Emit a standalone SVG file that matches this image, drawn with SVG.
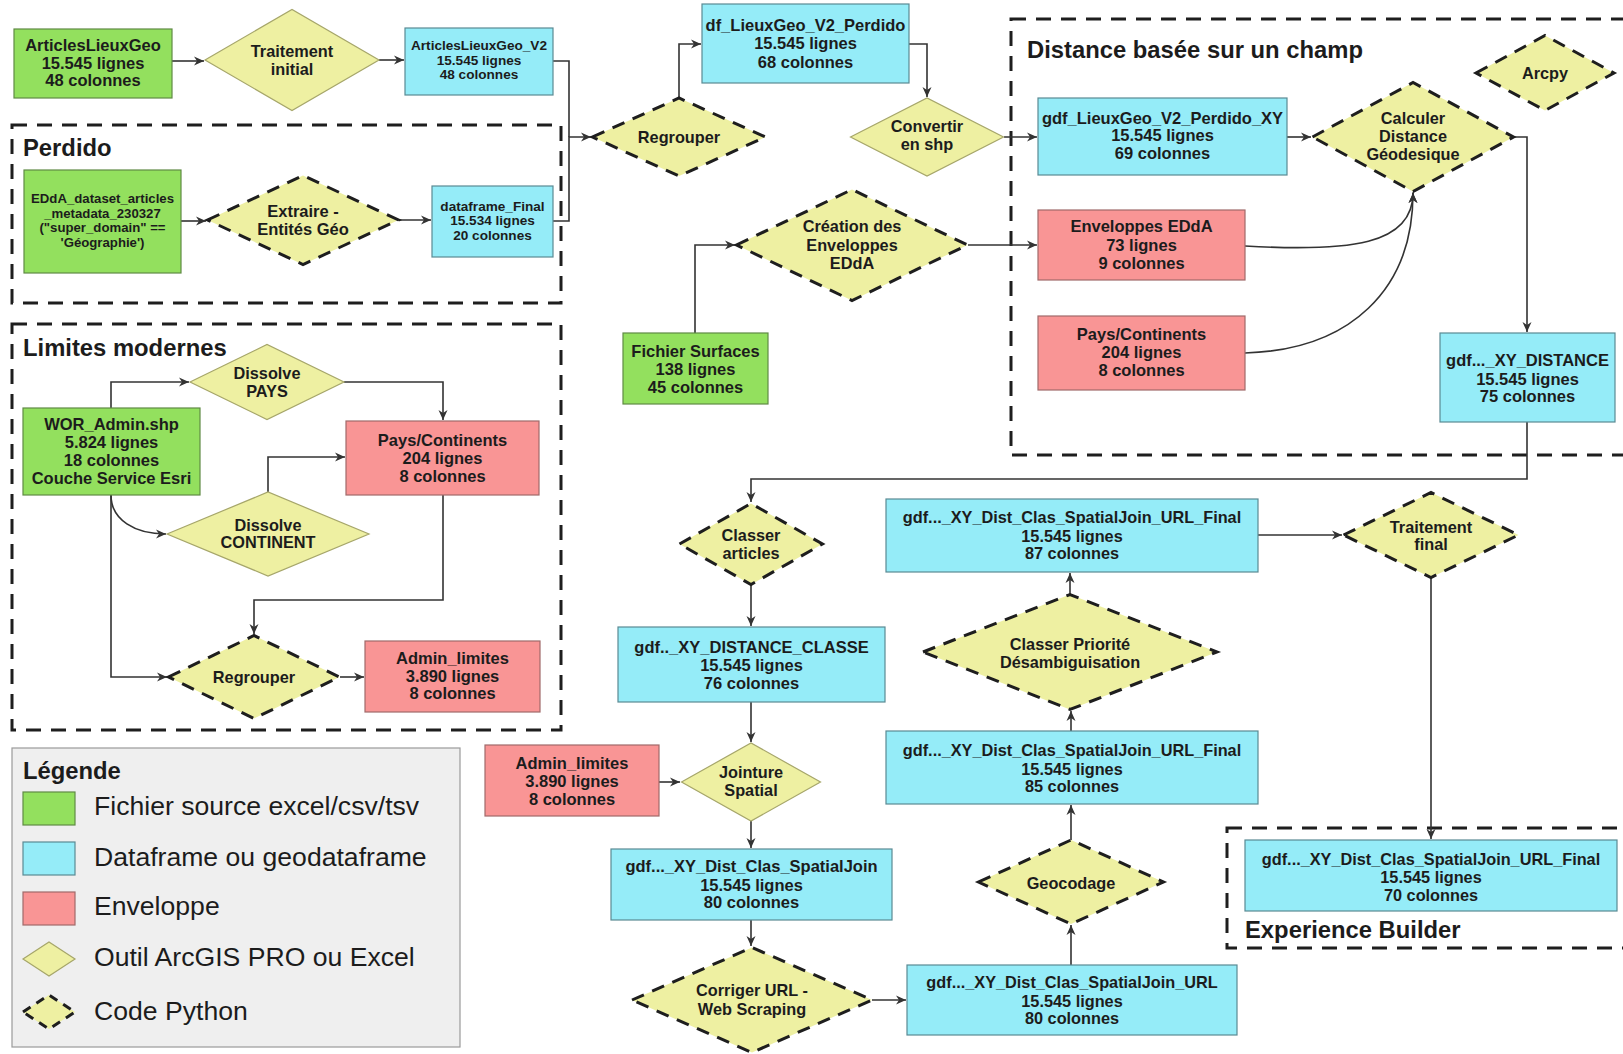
<svg xmlns="http://www.w3.org/2000/svg" width="1623" height="1054" viewBox="0 0 1623 1054">
<style>
.g{fill:#93e05e;stroke:#5f8a45;stroke-width:1.2}
.b{fill:#95ecf8;stroke:#5a8a93;stroke-width:1.2}
.r{fill:#f99595;stroke:#a06a6a;stroke-width:1.2}
.ds{fill:#eef0a2;stroke:#a6a66a;stroke-width:1.2}
.dp{fill:#eef0a2;stroke:#1e1e1e;stroke-width:3;stroke-dasharray:13 9}
.grp{fill:none;stroke:#1e1e1e;stroke-width:3;stroke-dasharray:15 10}
.t{font-family:"Liberation Sans",Arial,sans-serif;font-weight:bold;fill:#1c1c1c;text-anchor:middle;font-size:16.3px}
.m{font-size:16.5px}
.s{font-size:13.6px}
.h{font-family:"Liberation Sans",Arial,sans-serif;font-weight:bold;fill:#1c1c1c;font-size:23.8px}
.l{font-family:"Liberation Sans",Arial,sans-serif;fill:#1c1c1c;font-size:26.6px}
.c{fill:none;stroke:#333;stroke-width:1.6;marker-end:url(#a)}
.n{fill:none;stroke:#333;stroke-width:1.6}
</style>
<defs>
<marker id="a" markerUnits="userSpaceOnUse" markerWidth="12" markerHeight="10" refX="10" refY="5" orient="auto">
<path d="M0,0.5 L10,5 L0,9.5 L3,5 z" fill="#333"/>
</marker>
</defs>
<rect width="1623" height="1054" fill="#fff"/>

<g id="groups">
<rect class="grp" x="12" y="125" width="549" height="178"/>
<text class="h" x="23" y="156">Perdido</text>
<rect class="grp" x="12" y="324" width="549" height="406"/>
<text class="h" x="23" y="356">Limites modernes</text>
<rect class="grp" x="1011" y="19" width="640" height="436"/>
<text class="h" x="1027" y="58">Distance basée sur un champ</text>
<rect class="grp" x="1227" y="828" width="420" height="120"/>
<text class="h" x="1245" y="938">Experience Builder</text>
</g>

<g id="connectors">
<path class="c" d="M172,61 H204"/>
<path class="c" d="M379,60 H404"/>
<path class="n" d="M553,61 H569 V137"/>
<path class="c" d="M553,221 H569 V137 H591"/>
<path class="c" d="M181,221 H206"/>
<path class="c" d="M398,220 H431"/>
<path class="c" d="M679,98 V44 H701"/>
<path class="c" d="M909,44 H927 V97"/>
<path class="c" d="M1004,137 H1037"/>
<path class="c" d="M1287,137 H1311"/>
<path class="c" d="M1514,137 H1527 V332"/>
<path class="c" d="M1245,246 C1350,252 1413,245 1413,193"/>
<path class="c" d="M1245,353 C1350,350 1413,290 1413,193"/>
<path class="c" d="M968,245 H1037"/>
<path class="c" d="M695,333 V245 H735"/>
<path class="c" d="M1527,422 V479 H751 V502"/>
<path class="c" d="M751,585 V626"/>
<path class="c" d="M751,702 V742"/>
<path class="c" d="M659,782 H680"/>
<path class="c" d="M751,821 V848"/>
<path class="c" d="M751,920 V946"/>
<path class="c" d="M872,1000 H906"/>
<path class="c" d="M1071,965 V925"/>
<path class="c" d="M1071,840 V805"/>
<path class="c" d="M1071,731 V711"/>
<path class="c" d="M1070,594 V573"/>
<path class="c" d="M1258,535 H1342"/>
<path class="c" d="M1431,578 V839"/>
<path class="c" d="M111,408 V382 H189"/>
<path class="c" d="M344,382 H443 V420"/>
<path class="c" d="M111,495 C111,520 135,534 166,534"/>
<path class="c" d="M268,492 V457 H345"/>
<path class="c" d="M443,495 V600 H254 V634"/>
<path class="c" d="M111,495 V677 H167"/>
<path class="c" d="M340,677 H364"/>
</g>

<g id="n-articles"><rect class="g" x="14" y="29" width="158" height="69"/>
<text class="t m"><tspan x="93" y="51">ArticlesLieuxGeo</tspan><tspan x="93" y="68.5">15.545 lignes</tspan><tspan x="93" y="86">48 colonnes</tspan></text></g>

<g id="n-traitement-initial"><polygon class="ds" points="205,60 292,9.5 379,60 292,110.5"/>
<text class="t"><tspan x="292" y="57">Traitement</tspan><tspan x="292" y="74.5">initial</tspan></text></g>

<g id="n-articles-v2"><rect class="b" x="405" y="28" width="148" height="67"/>
<text class="t s"><tspan x="479" y="50">ArticlesLieuxGeo_V2</tspan><tspan x="479" y="64.5">15.545 lignes</tspan><tspan x="479" y="79">48 colonnes</tspan></text></g>

<g id="n-edda"><rect class="g" x="24" y="170" width="157" height="103"/>
<text class="t" style="font-size:13.2px"><tspan x="102.5" y="203">EDdA_dataset_articles</tspan><tspan x="102.5" y="217.5">_metadata_230327</tspan><tspan x="102.5" y="232">("super_domain" ==</tspan><tspan x="102.5" y="246.5">'Géographie')</tspan></text></g>

<g id="n-extraire"><polygon class="dp" points="207.5,220 303,175.5 398.5,220 303,264.5"/>
<text class="t m"><tspan x="303" y="217">Extraire -</tspan><tspan x="303" y="235">Entités Géo</tspan></text></g>

<g id="n-dataframe-final"><rect class="b" x="432" y="186" width="121" height="71"/>
<text class="t s"><tspan x="492.5" y="210.5">dataframe_Final</tspan><tspan x="492.5" y="225">15.534 lignes</tspan><tspan x="492.5" y="240">20 colonnes</tspan></text></g>

<g id="n-regrouper"><polygon class="dp" points="592.5,137 679,98 765.5,137 679,176"/>
<text class="t"><tspan x="679" y="142.5">Regrouper</tspan></text></g>

<g id="n-df-perdido"><rect class="b" x="702" y="4" width="207" height="79"/>
<text class="t m"><tspan x="805.5" y="30.5">df_LieuxGeo_V2_Perdido</tspan><tspan x="805.5" y="49">15.545 lignes</tspan><tspan x="805.5" y="67.5">68 colonnes</tspan></text></g>

<g id="n-convertir"><polygon class="ds" points="850.5,137 927,98 1003.5,137 927,176"/>
<text class="t"><tspan x="927" y="132">Convertir</tspan><tspan x="927" y="150">en shp</tspan></text></g>

<g id="n-xy"><rect class="b" x="1038" y="98" width="249" height="77"/>
<text class="t m"><tspan x="1162.5" y="123.5">gdf_LieuxGeo_V2_Perdido_XY</tspan><tspan x="1162.5" y="141">15.545 lignes</tspan><tspan x="1162.5" y="158.5">69 colonnes</tspan></text></g>

<g id="n-calculer"><polygon class="dp" points="1312.5,137 1413,82.5 1513.5,137 1413,191.5"/>
<text class="t"><tspan x="1413" y="123.5">Calculer</tspan><tspan x="1413" y="142">Distance</tspan><tspan x="1413" y="159.5">Géodesique</tspan></text></g>

<g id="n-arcpy"><polygon class="dp" points="1476,73 1545,35.5 1614,73 1545,110.5"/>
<text class="t"><tspan x="1545" y="79">Arcpy</tspan></text></g>

<g id="n-enveloppes"><rect class="r" x="1038" y="210" width="207" height="70"/>
<text class="t m"><tspan x="1141.5" y="232">Enveloppes EDdA</tspan><tspan x="1141.5" y="250.5">73 lignes</tspan><tspan x="1141.5" y="268.5">9 colonnes</tspan></text></g>

<g id="n-pays-distance"><rect class="r" x="1038" y="316" width="207" height="74"/>
<text class="t m"><tspan x="1141.5" y="339.5">Pays/Continents</tspan><tspan x="1141.5" y="357.5">204 lignes</tspan><tspan x="1141.5" y="376">8 colonnes</tspan></text></g>

<g id="n-xy-distance"><rect class="b" x="1440" y="333" width="175" height="89"/>
<text class="t m"><tspan x="1527.5" y="365.5">gdf..._XY_DISTANCE</tspan><tspan x="1527.5" y="384.5">15.545 lignes</tspan><tspan x="1527.5" y="401.5">75 colonnes</tspan></text></g>

<g id="n-creation"><polygon class="dp" points="736.5,245 852,189.5 967.5,245 852,300.5"/>
<text class="t"><tspan x="852" y="232">Création des</tspan><tspan x="852" y="250.5">Enveloppes</tspan><tspan x="852" y="268.5">EDdA</tspan></text></g>

<g id="n-fichier-surfaces"><rect class="g" x="623" y="333" width="145" height="71"/>
<text class="t m"><tspan x="695.5" y="356.5">Fichier Surfaces</tspan><tspan x="695.5" y="375">138 lignes</tspan><tspan x="695.5" y="392.5">45 colonnes</tspan></text></g>

<g id="n-dissolve-pays"><polygon class="ds" points="190,382 267,344.5 344,382 267,419.5"/>
<text class="t"><tspan x="267" y="379">Dissolve</tspan><tspan x="267" y="396.5">PAYS</tspan></text></g>

<g id="n-wor"><rect class="g" x="23" y="408" width="177" height="87"/>
<text class="t m"><tspan x="111.5" y="429.5">WOR_Admin.shp</tspan><tspan x="111.5" y="447.5">5.824 lignes</tspan><tspan x="111.5" y="466">18 colonnes</tspan><tspan x="111.5" y="483.5">Couche Service Esri</tspan></text></g>

<g id="n-pays-limites"><rect class="r" x="346" y="421" width="193" height="74"/>
<text class="t m"><tspan x="442.5" y="445.5">Pays/Continents</tspan><tspan x="442.5" y="464">204 lignes</tspan><tspan x="442.5" y="481.5">8 colonnes</tspan></text></g>

<g id="n-dissolve-continent"><polygon class="ds" points="167,534 268,492 369,534 268,576"/>
<text class="t"><tspan x="268" y="530.5">Dissolve</tspan><tspan x="268" y="548">CONTINENT</tspan></text></g>

<g id="n-regrouper-limites"><polygon class="dp" points="168.5,677 254,635.5 339.5,677 254,718.5"/>
<text class="t"><tspan x="254" y="682.5">Regrouper</tspan></text></g>

<g id="n-admin-limites"><rect class="r" x="365" y="641" width="175" height="71"/>
<text class="t m"><tspan x="452.5" y="663.5">Admin_limites</tspan><tspan x="452.5" y="681.5">3.890 lignes</tspan><tspan x="452.5" y="699">8 colonnes</tspan></text></g>

<g id="legend">
<rect x="12" y="748" width="448" height="299" fill="#efefef" stroke="#9a9a9a" stroke-width="1.2"/>
<text class="h" x="23" y="779">Légende</text>
<rect class="g" x="23" y="792" width="52" height="33"/>
<text class="l" x="94" y="815">Fichier source excel/csv/tsv</text>
<rect class="b" x="23" y="842" width="52" height="33"/>
<text class="l" x="94" y="866">Dataframe ou geodataframe</text>
<rect class="r" x="23" y="892" width="52" height="33"/>
<text class="l" x="94" y="915">Enveloppe</text>
<polygon class="ds" points="23,959 49,942 75,959 49,976"/>
<text class="l" x="94" y="966">Outil ArcGIS PRO ou Excel</text>
<polygon class="dp" points="23,1012 49,995 75,1012 49,1029" style="stroke-dasharray:9 7"/>
<text class="l" x="94" y="1020">Code Python</text>
</g>

<g id="n-classer-articles"><polygon class="dp" points="679.5,544 751,503.5 822.5,544 751,584.5"/>
<text class="t"><tspan x="751" y="540.5">Classer</tspan><tspan x="751" y="559">articles</tspan></text></g>

<g id="n-distance-classe"><rect class="b" x="618" y="627" width="267" height="75"/>
<text class="t m"><tspan x="751.5" y="652.5">gdf.._XY_DISTANCE_CLASSE</tspan><tspan x="751.5" y="671">15.545 lignes</tspan><tspan x="751.5" y="688.5">76 colonnes</tspan></text></g>

<g id="n-admin-limites-2"><rect class="r" x="485" y="745" width="174" height="71"/>
<text class="t m"><tspan x="572" y="768.5">Admin_limites</tspan><tspan x="572" y="787">3.890 lignes</tspan><tspan x="572" y="804.5">8 colonnes</tspan></text></g>

<g id="n-jointure"><polygon class="ds" points="681.5,782 751,743 820.5,782 751,821"/>
<text class="t"><tspan x="751" y="777.5">Jointure</tspan><tspan x="751" y="795.5">Spatial</tspan></text></g>

<g id="n-spatialjoin"><rect class="b" x="611" y="849" width="281" height="71"/>
<text class="t m"><tspan x="751.5" y="871.5">gdf..._XY_Dist_Clas_SpatialJoin</tspan><tspan x="751.5" y="890.5">15.545 lignes</tspan><tspan x="751.5" y="908">80 colonnes</tspan></text></g>

<g id="n-corriger"><polygon class="dp" points="632,1000 752,947.5 872,1000 752,1052.5"/>
<text class="t"><tspan x="752" y="996">Corriger URL -</tspan><tspan x="752" y="1014.5">Web Scraping</tspan></text></g>

<g id="n-url"><rect class="b" x="907" y="965" width="330" height="70"/>
<text class="t"><tspan x="1072" y="987.5">gdf..._XY_Dist_Clas_SpatialJoin_URL</tspan><tspan x="1072" y="1006.5">15.545 lignes</tspan><tspan x="1072" y="1024">80 colonnes</tspan></text></g>

<g id="n-geocodage"><polygon class="dp" points="978.5,882 1071,840 1163.5,882 1071,924"/>
<text class="t"><tspan x="1071" y="888.5">Geocodage</tspan></text></g>

<g id="n-final85"><rect class="b" x="886" y="731" width="372" height="73"/>
<text class="t"><tspan x="1072" y="756">gdf..._XY_Dist_Clas_SpatialJoin_URL_Final</tspan><tspan x="1072" y="774.5">15.545 lignes</tspan><tspan x="1072" y="792">85 colonnes</tspan></text></g>

<g id="n-classer-priorite"><polygon class="dp" points="923,652 1070,594.5 1217,652 1070,709.5"/>
<text class="t"><tspan x="1070" y="649.5">Classer Priorité</tspan><tspan x="1070" y="668">Désambiguisation</tspan></text></g>

<g id="n-final87"><rect class="b" x="886" y="499" width="372" height="73"/>
<text class="t"><tspan x="1072" y="523">gdf..._XY_Dist_Clas_SpatialJoin_URL_Final</tspan><tspan x="1072" y="541.5">15.545 lignes</tspan><tspan x="1072" y="559">87 colonnes</tspan></text></g>

<g id="n-traitement-final"><polygon class="dp" points="1343.5,535 1431,492.5 1518.5,535 1431,577.5"/>
<text class="t"><tspan x="1431" y="532.5">Traitement</tspan><tspan x="1431" y="550">final</tspan></text></g>

<g id="n-final70"><rect class="b" x="1245" y="840" width="372" height="71"/>
<text class="t"><tspan x="1431" y="864.5">gdf..._XY_Dist_Clas_SpatialJoin_URL_Final</tspan><tspan x="1431" y="883">15.545 lignes</tspan><tspan x="1431" y="900.5">70 colonnes</tspan></text></g>
</svg>
